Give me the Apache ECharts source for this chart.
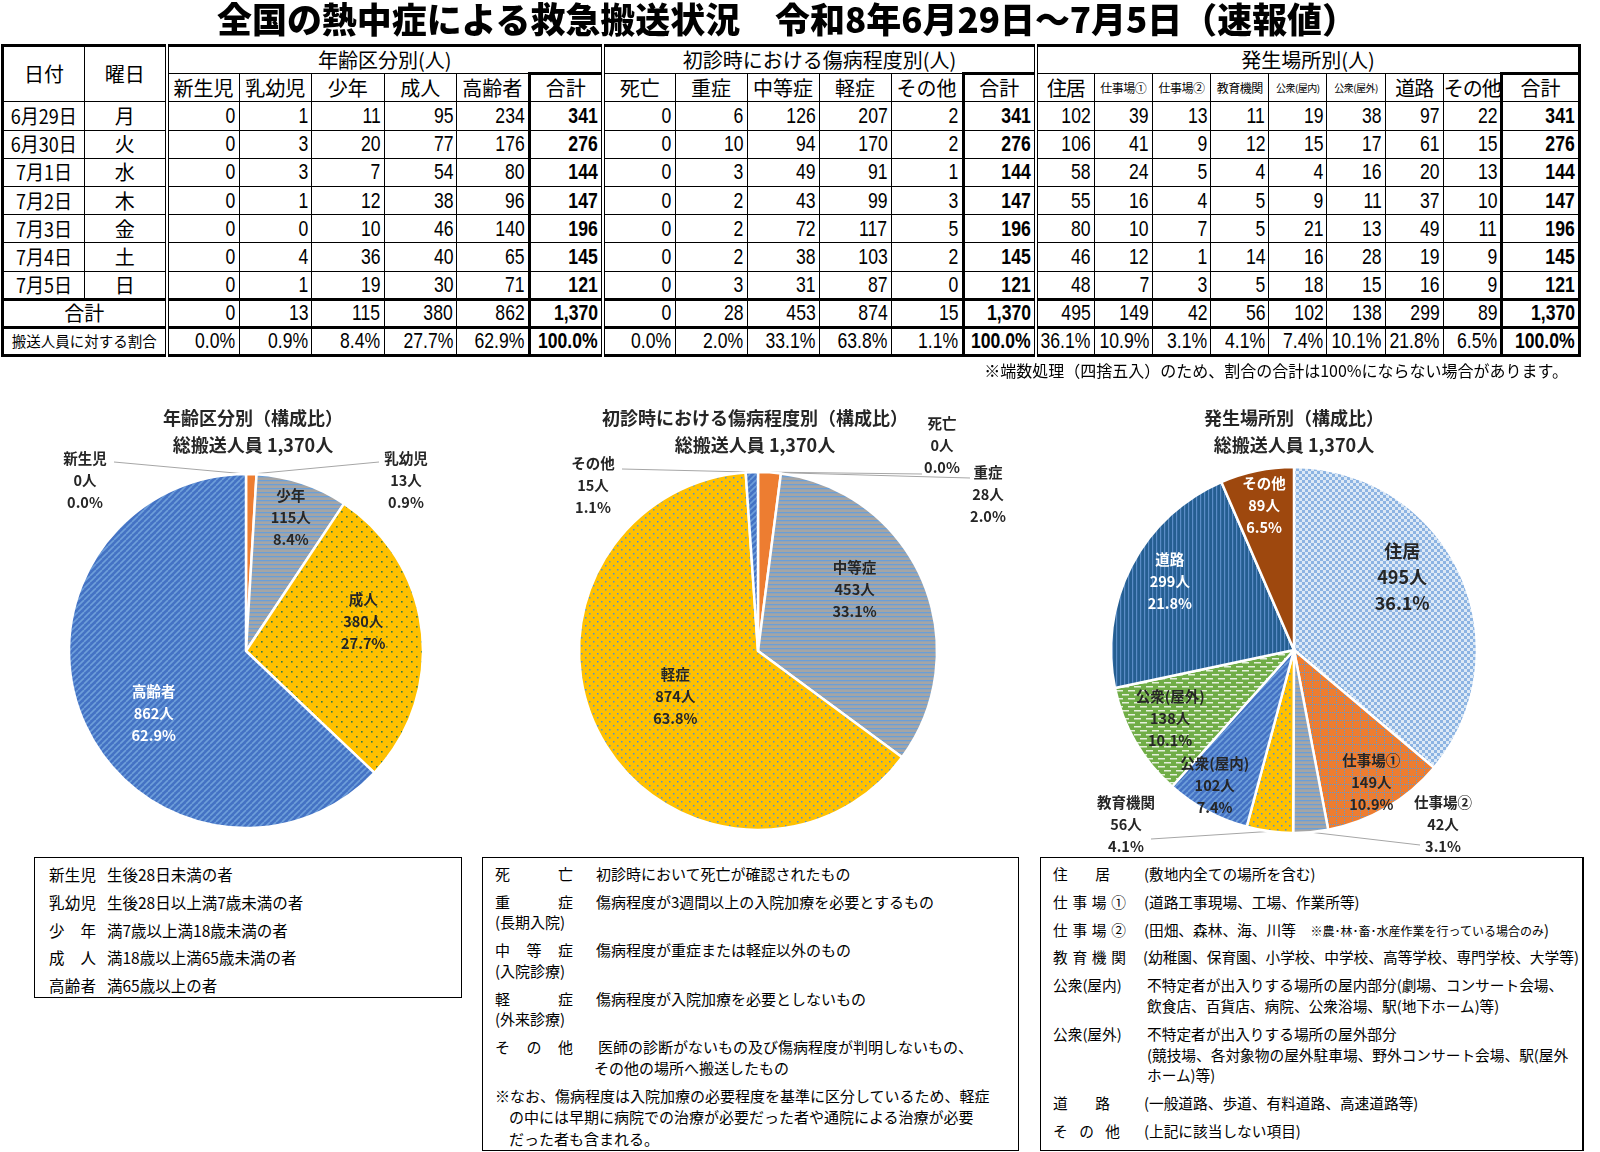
<!DOCTYPE html>
<html><head><meta charset="utf-8">
<script src="https://cdn.jsdelivr.net/npm/echarts@6/dist/echarts.min.js"></script>
<style>
html,body{margin:0;padding:0;background:#fff;}
body{width:1600px;height:1152px;position:relative;overflow:hidden;font-family:"Noto Sans CJK JP",sans-serif;color:#000;}
#chart{position:absolute;left:0;top:0;width:1600px;height:1152px;z-index:0;}
#title{position:absolute;left:217px;top:0;white-space:nowrap;font-weight:900;font-size:35px;line-height:36px;transform-origin:0 50%;z-index:2;}
#tbl{position:absolute;left:1px;top:44px;width:1577px;border-collapse:collapse;table-layout:fixed;border:3px solid #000;z-index:2;background:#fff;}
#tbl td{border:1px solid #000;padding:0 3px;font-size:20px;line-height:24px;white-space:nowrap;overflow:hidden;text-align:center;}
#tbl tr{height:28.2px;}
#tbl td.n{position:relative;font-family:"Liberation Sans",sans-serif;font-size:22px;}
#tbl td.n span{position:absolute;right:3px;top:50%;transform:translateY(-50%) scaleX(0.8);transform-origin:right center;}
#tbl td.dt span{display:inline-block;transform:scaleX(0.9);}
#tbl td.dl{border-left:4px double #000;}
#tbl td.tk{border-left:3px solid #000;font-weight:bold;}
#tbl td.tkh{border-left:3px solid #000;border-top:3px solid #000;}
#tbl tr.sum td{border-top:3px solid #000;}
#tbl td.pl{padding:0;letter-spacing:-1px;}
#tbl td.s12{font-size:12px;padding:0;letter-spacing:-0.5px;}
#tbl td.s10{font-size:10px;padding:0;letter-spacing:-0.5px;}
#tbl td.s14{font-size:14.5px;padding:0;}
#note{position:absolute;right:32px;top:359px;font-size:16px;line-height:22px;white-space:nowrap;z-index:2;}
.box{position:absolute;border:1.5px solid #000;background:#fff;z-index:2;box-sizing:border-box;}
.box .ln{position:absolute;white-space:nowrap;line-height:20px;height:20px;}
.box .tm{display:inline-block;text-align-last:justify;text-align:justify;}
</style>
</head>
<body>
<div id="chart"></div>
<div id="title">全国の熱中症による救急搬送状況　令和8年6月29日～7月5日（速報値）</div>
<table id="tbl"></table>
<div id="note">※端数処理（四捨五入）のため、割合の合計は100%にならない場合があります。</div>
<div class="box" id="box1" style="left:34px;top:857px;width:428px;height:141px;font-size:15.5px;"></div>
<div class="box" id="box2" style="left:482px;top:857px;width:537px;height:294px;font-size:15px;"></div>
<div class="box" id="box3" style="left:1040px;top:857px;width:544px;height:294px;font-size:14.7px;border-right-width:2.5px;"></div>
<script>
// ---------------- DATA ----------------
const dates = ['6月29日','6月30日','7月1日','7月2日','7月3日','7月4日','7月5日'];
const weekdays = ['月','火','水','木','金','土','日'];

const ageNames = ['新生児','乳幼児','少年','成人','高齢者'];
const ageNewborn = [0,0,0,0,0,0,0];
const ageInfant  = [1,3,3,1,0,4,1];
const ageYouth   = [11,20,7,12,10,36,19];
const ageAdult   = [95,77,54,38,46,40,30];
const ageElderly = [234,176,80,96,140,65,71];
const ageRowTotal = [341,276,144,147,196,145,121];
const ageTotals = [0,13,115,380,862];
const ageGrand = 1370;
const agePct = [0.0,0.9,8.4,27.7,62.9];

const sevNames = ['死亡','重症','中等症','軽症','その他'];
const sevDeath    = [0,0,0,0,0,0,0];
const sevSevere   = [6,10,3,2,2,2,3];
const sevModerate = [126,94,49,43,72,38,31];
const sevMild     = [207,170,91,99,117,103,87];
const sevOther    = [2,2,1,3,5,2,0];
const sevRowTotal = [341,276,144,147,196,145,121];
const sevTotals = [0,28,453,874,15];
const sevGrand = 1370;
const sevPct = [0.0,2.0,33.1,63.8,1.1];

const placeNames = ['住居','仕事場①','仕事場②','教育機関','公衆(屋内)','公衆(屋外)','道路','その他'];
const plHome    = [102,106,58,55,80,46,48];
const plWork1   = [39,41,24,16,10,12,7];
const plWork2   = [13,9,5,4,7,1,3];
const plSchool  = [11,12,4,5,5,14,5];
const plIndoor  = [19,15,4,9,21,16,18];
const plOutdoor = [38,17,16,11,13,28,15];
const plRoad    = [97,61,20,37,49,19,16];
const plOther   = [22,15,13,10,11,9,9];
const plRowTotal = [341,276,144,147,196,145,121];
const placeTotals = [495,149,42,56,102,138,299,89];
const placeGrand = 1370;
const placePct = [36.1,10.9,3.1,4.1,7.4,10.1,21.8,6.5];
const grandPct = 100.0;

// ---------------- TABLE ----------------
const fmt = v => v.toLocaleString('en-US');
const colW = [82,82,72.5,72.5,72.5,72.5,72.5,74,72,72,72,72,72,73,58.2,58.2,58.2,58.2,58.2,58.2,58.2,58.2,78];
const ageCols = [ageNewborn,ageInfant,ageYouth,ageAdult,ageElderly];
const sevCols = [sevDeath,sevSevere,sevModerate,sevMild,sevOther];
const plCols = [plHome,plWork1,plWork2,plSchool,plIndoor,plOutdoor,plRoad,plOther];
const nc = (v,extra) => `<td class="n ${extra||''}"><span>${v}</span></td>`;
let h = '<colgroup>' + colW.map(w=>`<col style="width:${w}px">`).join('') + '</colgroup>';
h += '<tr><td rowspan="2">日付</td><td rowspan="2">曜日</td><td colspan="6" class="dl">年齢区分別(人)</td><td colspan="6" class="dl">初診時における傷病程度別(人)</td><td colspan="9" class="dl">発生場所別(人)</td></tr>';
const smallCls = n => (n.length>=5 ? 's10' : (n.length===4 ? 's12' : 'pl'));
h += '<tr>' + ageNames.map((n,i)=>`<td class="${i===0?'dl':''}">${n}</td>`).join('') + '<td class="tkh">合計</td>'
   + sevNames.map((n,i)=>`<td class="${i===0?'dl':''}">${n}</td>`).join('') + '<td class="tkh">合計</td>'
   + placeNames.map((n,i)=>`<td class="${i===0?'dl':''} ${smallCls(n)}">${n}</td>`).join('') + '<td class="tkh">合計</td></tr>';
for (let r=0;r<dates.length;r++){
  h += `<tr><td class="dt"><span>${dates[r]}</span></td><td>${weekdays[r]}</td>`;
  h += ageCols.map((c,i)=>nc(c[r], i===0?'dl':'')).join('') + nc(ageRowTotal[r],'tk');
  h += sevCols.map((c,i)=>nc(c[r], i===0?'dl':'')).join('') + nc(sevRowTotal[r],'tk');
  h += plCols.map((c,i)=>nc(c[r], i===0?'dl':'')).join('') + nc(plRowTotal[r],'tk');
  h += '</tr>';
}
h += '<tr class="sum"><td colspan="2">合計</td>'
   + ageTotals.map((v,i)=>nc(fmt(v), i===0?'dl':'')).join('') + nc(fmt(ageGrand),'tk')
   + sevTotals.map((v,i)=>nc(fmt(v), i===0?'dl':'')).join('') + nc(fmt(sevGrand),'tk')
   + placeTotals.map((v,i)=>nc(fmt(v), i===0?'dl':'')).join('') + nc(fmt(placeGrand),'tk') + '</tr>';
const pf = v => v.toFixed(1)+'%';
h += '<tr class="sum"><td colspan="2" class="s14">搬送人員に対する割合</td>'
   + agePct.map((v,i)=>nc(pf(v), i===0?'dl':'')).join('') + nc(pf(grandPct),'tk')
   + sevPct.map((v,i)=>nc(pf(v), i===0?'dl':'')).join('') + nc(pf(grandPct),'tk')
   + placePct.map((v,i)=>nc(pf(v), i===0?'dl':'')).join('') + nc(pf(grandPct),'tk') + '</tr>';
document.getElementById('tbl').innerHTML = h;

// title width fit
(function(){ const t=document.getElementById('title'); const w=t.getBoundingClientRect().width; t.style.transform=`scaleX(${1140/w})`; })();

// ---------------- DEFINITION BOXES ----------------
function fillBox(id, lines){
  const b=document.getElementById(id);
  b.innerHTML = lines.map(l=>{
    const term = l.t ? `<span class="tm" style="width:${l.tw||'auto'}${l.tw?'px':''};${l.tw?'':'text-align-last:auto'}">${l.t}</span>` : '';
    const def = l.d ? `<span style="position:absolute;left:${l.dx}px;">${l.d}</span>` : '';
    return `<div class="ln" style="top:${l.y-10}px;left:${l.x}px;">${term}${def}</div>`;
  }).join('');
}
fillBox('box1', [
  {y:16,x:14,t:'新生児',tw:47,d:'生後28日未満の者',dx:58},
  {y:44,x:14,t:'乳幼児',tw:47,d:'生後28日以上満7歳未満の者',dx:58},
  {y:72,x:14,t:'少年',tw:47,d:'満7歳以上満18歳未満の者',dx:58},
  {y:99,x:14,t:'成人',tw:47,d:'満18歳以上満65歳未満の者',dx:58},
  {y:127,x:14,t:'高齢者',tw:47,d:'満65歳以上の者',dx:58}
]);
fillBox('box2', [
  {y:16,x:12,t:'死亡',tw:78,d:'初診時において死亡が確認されたもの',dx:101},
  {y:44,x:12,t:'重症',tw:78,d:'傷病程度が3週間以上の入院加療を必要とするもの',dx:101},
  {y:64,x:12,d:'(長期入院)',dx:0},
  {y:92,x:12,t:'中等症',tw:78,d:'傷病程度が重症または軽症以外のもの',dx:101},
  {y:113,x:12,d:'(入院診療)',dx:0},
  {y:141,x:12,t:'軽症',tw:78,d:'傷病程度が入院加療を必要としないもの',dx:101},
  {y:161,x:12,d:'(外来診療)',dx:0},
  {y:189,x:12,t:'その他',tw:78,d:'医師の診断がないもの及び傷病程度が判明しないもの、',dx:103},
  {y:210,x:12,d:'その他の場所へ搬送したもの',dx:99},
  {y:238,x:12,d:'※なお、傷病程度は入院加療の必要程度を基準に区分しているため、軽症',dx:0},
  {y:259,x:12,d:'の中には早期に病院での治療が必要だった者や通院による治療が必要',dx:14},
  {y:281,x:12,d:'だった者も含まれる。',dx:14}
]);
fillBox('box3', [
  {y:16,x:12,t:'住居',tw:57,d:'(敷地内全ての場所を含む)',dx:91},
  {y:44,x:12,t:'仕事場①',tw:73,d:'(道路工事現場、工場、作業所等)',dx:91},
  {y:72,x:12,t:'仕事場②',tw:73,d:'(田畑、森林、海、川等　<span style="font-size:12px">※農･林･畜･水産作業を行っている場合のみ</span>)',dx:91},
  {y:99,x:12,t:'教育機関',tw:73,d:'(幼稚園、保育園、小学校、中学校、高等学校、専門学校、大学等)',dx:90},
  {y:127,x:12,t:'公衆(屋内)',d:'不特定者が出入りする場所の屋内部分(劇場、コンサート会場、',dx:94},
  {y:148,x:12,d:'飲食店、百貨店、病院、公衆浴場、駅(地下ホーム)等)',dx:94},
  {y:176,x:12,t:'公衆(屋外)',d:'不特定者が出入りする場所の屋外部分',dx:94},
  {y:197,x:12,d:'(競技場、各対象物の屋外駐車場、野外コンサート会場、駅(屋外',dx:94},
  {y:217,x:12,d:'ホーム)等)',dx:94},
  {y:245,x:12,t:'道路',tw:57,d:'(一般道路、歩道、有料道路、高速道路等)',dx:91},
  {y:273,x:12,t:'その他',tw:67,d:'(上記に該当しない項目)',dx:91}
]);

// ---------------- PIE CHARTS ----------------
function pat(w,hh,bg,draw){const c=document.createElement('canvas');c.width=w;c.height=hh;const g=c.getContext('2d');g.fillStyle=bg;g.fillRect(0,0,w,hh);if(draw)draw(g,w,hh);return {image:c,repeat:'repeat'};}
const FILL = {
  orange:'#ED7D31',
  grayLines: pat(4,4,'#A5A5A5',g=>{g.fillStyle='#6A9FD8';g.fillRect(0,0,4,1.3);}),
  yellowDotsGreen: pat(10,10,'#FFC000',g=>{g.fillStyle='#2F7A4A';g.fillRect(1,1,1.6,1.6);g.fillRect(6,6,1.6,1.6);}),
  yellowDotsBlue: pat(8,8,'#FFC000',g=>{g.fillStyle='#4A90D9';g.fillRect(1,1,1.5,1.5);g.fillRect(5,5,1.5,1.5);}),
  blueDiag: pat(6,6,'#4472C4',g=>{g.strokeStyle='#6E9FDA';g.lineWidth=1.6;for(let k=-6;k<=6;k+=6){g.beginPath();g.moveTo(k,6);g.lineTo(k+6,0);g.stroke();}}),
  checker: pat(6,6,'#DCE9F6',g=>{g.fillStyle='#8DB4E2';g.fillRect(0,0,3,3);g.fillRect(3,3,3,3);}),
  orangeGrid: pat(8,8,'#ED7D31',g=>{g.fillStyle='#5B9BD5';for(let i=0;i<8;i+=2){g.fillRect(i,0,1,1);g.fillRect(0,i,1,1);}}),
  greenDash: pat(12,8,'#70AD47',g=>{g.fillStyle='#E6F0DE';g.fillRect(0,2,7,1.5);g.fillRect(6,6,6,1.5);g.fillRect(0,6,1,1.5);}),
  darkVert: pat(4,4,'#255E91',g=>{g.fillStyle='#5A8CC6';g.fillRect(0,0,1.2,4);}),
  brown:'#9E480E',
  blue:'#4472C4'
};
const FONT = '"Noto Sans CJK JP", sans-serif';
const DARK = '#262626';

// layout (positions of pies and label placement; not data)
const PIES = [
  {names:ageNames, values:ageTotals, pct:agePct, grand:ageGrand, cx:246, cy:651, r:177, tx:253, title:'年齢区分別（構成比）',
   fills:[FILL.blue, FILL.orange, FILL.grayLines, FILL.yellowDotsGreen, FILL.blueDiag],
   lab:{0:{x:85,y:480,lx:114,ly:462},1:{x:406,y:480,lx:379,ly:462},2:{t:0.77},3:{t:0.66,a:-7.5},4:{t:0.61,a:-11,c:'#fff'}}},
  {names:sevNames, values:sevTotals, pct:sevPct, grand:sevGrand, cx:758, cy:651, r:179, tx:755, title:'初診時における傷病程度別（構成比）',
   fills:[FILL.blue, FILL.orange, FILL.grayLines, FILL.yellowDotsBlue, FILL.blueDiag],
   lab:{0:{x:942,y:445,lx:922,ly:474},1:{x:988,y:494,lx:970,ly:478},2:{t:0.62,a:-9.5},3:{t:0.51},4:{x:593,y:485,lx:622,ly:469}}},
  {names:placeNames, values:placeTotals, pct:placePct, grand:placeGrand, cx:1294, cy:650, r:183, tx:1294, title:'発生場所別（構成比）',
   fills:[FILL.checker, FILL.orangeGrid, FILL.grayLines, FILL.yellowDotsBlue, FILL.blueDiag, FILL.greenDash, FILL.darkVert, FILL.brown],
   lab:{0:{t:0.69,a:-9,fs:18,lh:26},1:{t:0.81},2:{x:1443,y:824,lx:1420,ly:845},3:{x:1126,y:824,lx:1151,ly:839},4:{t:0.83,a:2},5:{t:0.75,a:1},6:{t:0.75,a:1.5,c:'#fff'},7:{t:0.78,c:'#fff'}}}
];

function makeLayout(P){
  return function(p){
    const c = P.lab[p.dataIndex];
    if(!c) return {};
    if(c.t!==undefined){
      const lx=p.labelRect.x+p.labelRect.width/2, ly=p.labelRect.y+p.labelRect.height/2;
      const k=c.t/0.5, a=(c.a||0)*Math.PI/180;
      const vx=(lx-P.cx)*k, vy=(ly-P.cy)*k;
      const rx=vx*Math.cos(a)-vy*Math.sin(a), ry=vx*Math.sin(a)+vy*Math.cos(a);
      return {x:P.cx+rx, y:P.cy+ry, align:'center', verticalAlign:'middle', hideOverlap:false};
    }
    const start = (p.labelLinePoints && p.labelLinePoints[0]) || [P.cx, P.cy-P.r];
    return {x:c.x, y:c.y, align:'center', verticalAlign:'middle', hideOverlap:false,
            labelLinePoints:[start,[c.lx,c.ly],[c.lx,c.ly]]};
  };
}

const series = PIES.map(P=>({
  type:'pie', center:[P.cx,P.cy], radius:P.r, startAngle:90, clockwise:true,
  avoidLabelOverlap:false, animation:false, silent:true,
  itemStyle:{borderColor:'#fff', borderWidth:2.5},
  label:{show:true, position:'inside', fontFamily:FONT, fontWeight:'bold', fontSize:14.5, lineHeight:22, color:DARK,
         formatter:p=>`${p.name}\n${p.value}人\n${P.pct[p.dataIndex].toFixed(1)}%`},
  labelLine:{show:false, lineStyle:{color:'#A6A6A6', width:1}},
  labelLayout:makeLayout(P),
  emphasis:{disabled:true},
  data:P.names.map((n,i)=>{
    const c=P.lab[i]||{};
    const outside = c.t===undefined;
    return {name:n, value:P.values[i], itemStyle:{color:P.fills[i]},
      label:Object.assign({position:outside?'outside':'inside', color:c.c||DARK}, c.fs?{fontSize:c.fs, lineHeight:c.lh}:{}),
      labelLine:{show:outside, length:10, length2:10}};
  })
}));

const graphic = PIES.map(P=>({
  type:'text', x:P.tx, y:405, silent:true,
  style:{text:P.title+'\n総搬送人員 '+fmt(P.grand)+'人', align:'center', verticalAlign:'top',
         fontFamily:FONT, fontWeight:'bold', fontSize:18, lineHeight:27, fill:DARK}
}));

const chart = echarts.init(document.getElementById('chart'), null, {renderer:'canvas'});
chart.setOption({animation:false, series, graphic});
</script>
</body></html>
